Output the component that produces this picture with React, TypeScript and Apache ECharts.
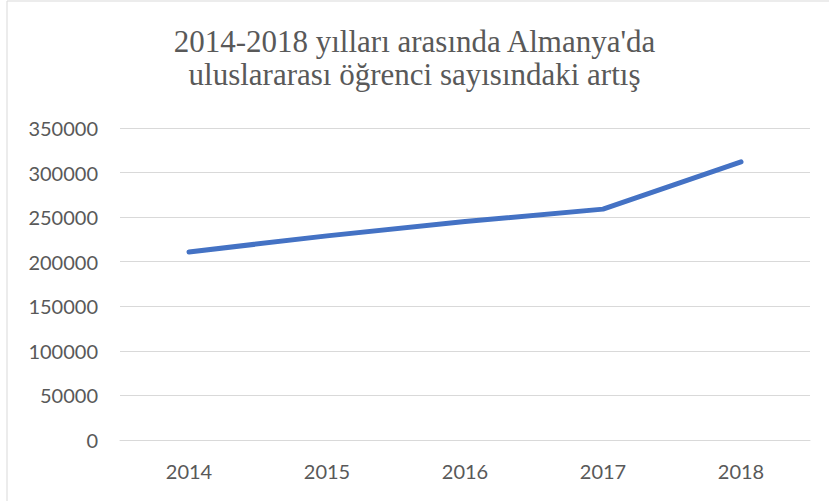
import React, { useEffect, useRef } from "react";
import * as echarts from "echarts";

const titleLines = ["2014-2018 yılları arasında Almanya'da", "uluslararası öğrenci sayısındaki artış"];
const years = ["2014", "2015", "2016", "2017", "2018"];
const students = [211000, 229000, 245000, 259000, 312000];
const yTicks = { min: 0, max: 350000, interval: 50000 };

export default function App() {
  const ref = useRef<HTMLDivElement>(null);
  useEffect(() => {
    document.body.style.margin = "0";
    const chart = echarts.init(ref.current!, null, { renderer: "svg" });
    chart.setOption({
      animation: false,
      backgroundColor: "#ffffff",
      title: {
        text: titleLines.join("\n"),
        left: "center",
        top: 20,
        textStyle: {
          fontFamily: "Liberation Serif",
          fontSize: 31,
          fontWeight: "normal",
          color: "#595959",
          lineHeight: 33,
        },
      },
      graphic: [
        {
          type: "rect",
          shape: { x: 7, y: 1, width: 900, height: 600 },
          style: { fill: "none", stroke: "#d9d9d9", lineWidth: 1 },
          silent: true,
        },
      ],
      grid: { left: 120, right: 19, top: 128, bottom: 61 },
      xAxis: {
        type: "category",
        data: years,
        boundaryGap: true,
        axisLine: { show: true, lineStyle: { color: "#d9d9d9", width: 1 } },
        axisTick: { show: false },
        axisLabel: { color: "#595959", fontFamily: "Lato", fontSize: 20, margin: 21 },
      },
      yAxis: {
        type: "value",
        min: yTicks.min,
        max: yTicks.max,
        interval: yTicks.interval,
        axisLine: { show: false },
        axisTick: { show: false },
        splitLine: { lineStyle: { color: "#d9d9d9", width: 1 } },
        axisLabel: {
          color: "#595959",
          fontFamily: "Lato",
          fontSize: 20,
          margin: 22,
          formatter: (v: number) => String(v),
        },
      },
      series: [
        {
          type: "line",
          data: students,
          showSymbol: false,
          symbol: "none",
          lineStyle: { color: "#4472C4", width: 5, cap: "round", join: "round" },
        },
      ],
    });
    return () => chart.dispose();
  }, []);
  return <div ref={ref} style={{ width: 829, height: 501 }} />;
}
